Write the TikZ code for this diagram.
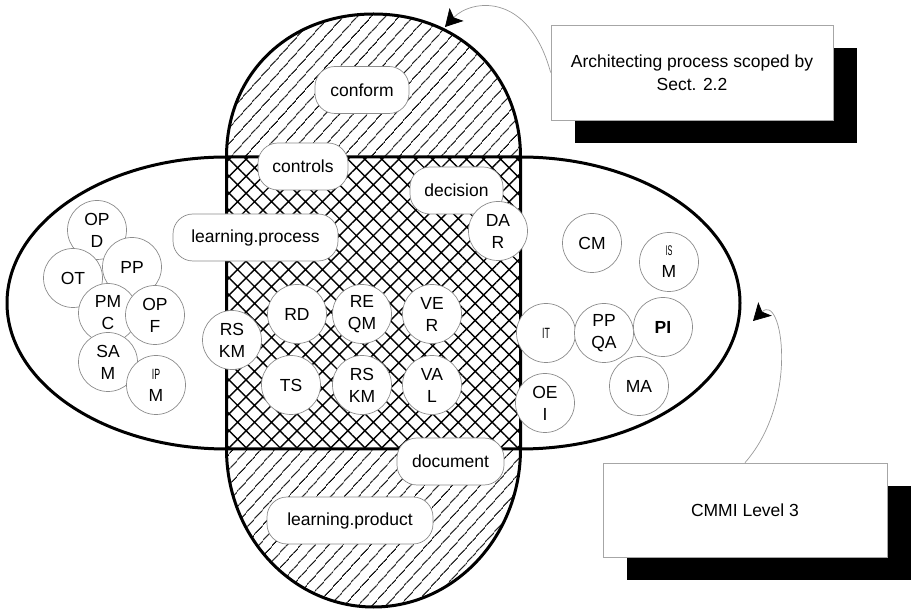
\documentclass[tikz,border=0pt]{standalone}
\usepackage{fontspec}
\setmainfont{Liberation Sans}
\usetikzlibrary{patterns.meta,arrows.meta}

\tikzset{
  circ/.style={circle, draw=black!45, line width=0.7pt, fill=white, minimum size=59pt, inner sep=0pt, align=center, font=\fontsize{17.5}{22}\selectfont},
  pill/.style={rounded corners=20pt, draw=black!45, line width=0.7pt, fill=white, minimum height=47pt, inner sep=0pt, font=\fontsize{17.5}{22}\selectfont},
  note/.style={draw=black!35, line width=0.7pt, fill=white, minimum width=282pt, minimum height=95pt, inner sep=0pt, align=center, font=\fontsize{17.5}{23}\selectfont},
  shadowbox/.style={fill=black, minimum width=282pt, minimum height=95pt, inner sep=0pt},
  outline/.style={line width=3pt, line join=round},
  link/.style={draw=black!40, line width=0.7pt, -{Stealth[length=17pt,width=19pt,inset=4pt,color=black]}},
  hatch/.style={pattern={Lines[angle=48,distance=10.5pt,line width=1.2pt]}},
  cross/.style={pattern={Hatch[angle=45,distance=12pt,line width=1.4pt]}},
}
\newcommand{\narrowtxt}[1]{\scalebox{0.5}[0.85]{#1}}

\begin{document}
\begin{tikzpicture}[x=1pt,y=-1pt]
\useasboundingbox (0,0) rectangle (911,609);

% horizontal shape (background)
\fill[white] (226.5,157) -- (520.5,157) .. controls (641.7,157) and (740,222.4) .. (740,303)
  .. controls (740,383.6) and (641.7,449) .. (520.5,449) -- (226.5,449)
  .. controls (105.3,449) and (7,383.6) .. (7,303) .. controls (7,222.4) and (105.3,157) .. (226.5,157) -- cycle;

% vertical shape hatched
\fill[hatch] (226.5,157) .. controls (226.5,74.1) and (288.2,14) .. (373.5,14)
  .. controls (458.8,14) and (520.5,74.1) .. (520.5,157) -- (520.5,449)
  .. controls (520.5,536.2) and (454.6,607) .. (373.5,607)
  .. controls (292.4,607) and (226.5,536.2) .. (226.5,449) -- cycle;

% intersection cross-hatched
\fill[white] (226.5,157) rectangle (520.5,449);
\fill[cross] (226.5,157) rectangle (520.5,449);

% outlines
\draw[outline] (226.5,157) -- (520.5,157) .. controls (641.7,157) and (740,222.4) .. (740,303)
  .. controls (740,383.6) and (641.7,449) .. (520.5,449) -- (226.5,449)
  .. controls (105.3,449) and (7,383.6) .. (7,303) .. controls (7,222.4) and (105.3,157) .. (226.5,157) -- cycle;
\draw[outline] (226.5,157) .. controls (226.5,74.1) and (288.2,14) .. (373.5,14)
  .. controls (458.8,14) and (520.5,74.1) .. (520.5,157) -- (520.5,449)
  .. controls (520.5,536.2) and (454.6,607) .. (373.5,607)
  .. controls (292.4,607) and (226.5,536.2) .. (226.5,449) -- cycle;

% pills
\node[pill, minimum width=94pt] (conform) at (362,90) {conform};
\node[pill, minimum width=90pt] (controls) at (303,166.5) {controls};
\node[pill, minimum width=93pt] (decision) at (456.5,190.5) {decision};
\node[pill, minimum width=165pt] (lproc) at (255.5,237.5) {learning.process};
\node[pill, minimum width=107pt] (document) at (450.5,461.5) {document};
\node[pill, minimum width=166pt] (lprod) at (350,520.5) {learning.product};

% circles left
\node[circ] (opd) at (97,230) {OP\\D};
\node[circ] (pp) at (132,267) {PP};
\node[circ] (ot) at (73,278) {OT};
\node[circ] (pmc) at (108,313) {PM\\C};
\node[circ] (opf) at (155,315) {OP\\F};
\node[circ] (sam) at (108,362) {SA\\M};
\node[circ] (ipm) at (156,385) {\narrowtxt{IP}\\M};

% circles middle
\node[circ] (rskma) at (232,340) {RS\\KM};
\node[circ] (rd) at (297,314) {RD};
\node[circ] (reqm) at (362,314) {RE\\QM};
\node[circ] (ver) at (432,314) {VE\\R};
\node[circ] (ts) at (291,385) {TS};
\node[circ] (rskmb) at (362,385) {RS\\KM};
\node[circ] (val) at (432,385) {VA\\L};
\node[circ] (dar) at (498,231) {DA\\R};

% circles right
\node[circ] (cm) at (592,243) {CM};
\node[circ] (ism) at (669,262) {\scalebox{0.42}[0.8]{IS}\\M};
\node[circ] (it) at (546,333) {\narrowtxt{IT}};
\node[circ] (ppqa) at (604,333) {PP\\QA};
\node[circ] (pi) at (663,327) {\bfseries PI};
\node[circ] (ma) at (639,386) {MA};
\node[circ] (oei) at (545,403) {OE\\I};

% notes with shadows
\node[shadowbox] (s1) at (716,95.5) {};
\node[note] (b1) at (692,72.5) {Architecting process scoped by\\Sect. 2.2};
\node[shadowbox, minimum width=284pt, minimum height=94pt] (s2) at (769,533) {};
\node[note, minimum width=284pt, minimum height=94pt] (b2) at (745,510) {CMMI Level 3};

% connectors
\coordinate (t1) at (445,27);
\coordinate (t2) at (753,321);
\draw[link] (b1.west) .. controls (528,-10) and (470,0) .. (t1);
\draw[link] (b2.north) .. controls (800,400) and (782,292) .. (t2);
\end{tikzpicture}
\end{document}
